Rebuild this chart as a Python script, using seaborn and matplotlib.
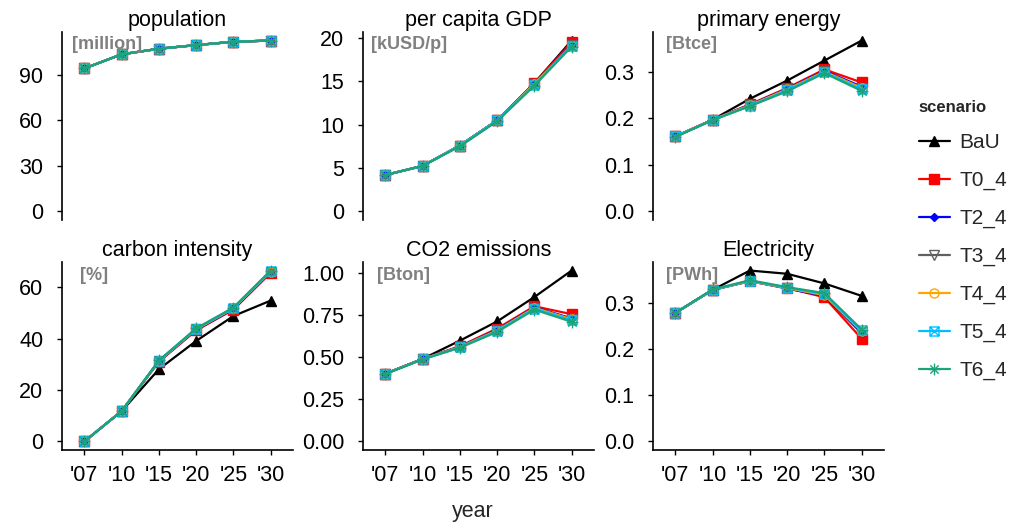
import numpy as np
import pandas as pd
import matplotlib
matplotlib.use("Agg")
import matplotlib.pyplot as plt
from matplotlib.path import Path
import seaborn as sns

years = ["'07", "'10", "'15", "'20", "'25", "'30"]
scenarios = ["BaU", "T0_4", "T2_4", "T3_4", "T4_4", "T5_4", "T6_4"]

population = {
    "BaU":  [94.3, 103.6, 107.3, 109.7, 111.9, 112.7],
    "T0_4": [94.3, 103.6, 107.3, 109.7, 111.9, 112.7],
    "T2_4": [94.3, 103.6, 107.3, 109.7, 111.9, 112.7],
    "T3_4": [94.3, 103.6, 107.3, 109.7, 111.9, 112.7],
    "T4_4": [94.3, 103.6, 107.3, 109.7, 111.9, 112.7],
    "T5_4": [94.3, 103.6, 107.3, 109.7, 111.9, 112.7],
    "T6_4": [94.3, 103.6, 107.3, 109.7, 111.9, 112.7],
}
gdp = {
    "BaU":  [4.2, 5.25, 7.6, 10.5, 14.8, 19.7],
    "T0_4": [4.2, 5.25, 7.6, 10.5, 14.8, 19.5],
    "T2_4": [4.2, 5.25, 7.6, 10.5, 14.7, 19.2],
    "T3_4": [4.2, 5.25, 7.6, 10.5, 14.7, 19.2],
    "T4_4": [4.2, 5.25, 7.6, 10.5, 14.7, 19.1],
    "T5_4": [4.2, 5.25, 7.6, 10.5, 14.6, 19.1],
    "T6_4": [4.2, 5.25, 7.5, 10.4, 14.5, 19.0],
}
energy = {
    "BaU":  [0.161, 0.197, 0.242, 0.281, 0.324, 0.367],
    "T0_4": [0.161, 0.197, 0.230, 0.265, 0.305, 0.277],
    "T2_4": [0.161, 0.197, 0.229, 0.263, 0.302, 0.268],
    "T3_4": [0.161, 0.197, 0.228, 0.262, 0.301, 0.266],
    "T4_4": [0.161, 0.197, 0.228, 0.262, 0.300, 0.265],
    "T5_4": [0.161, 0.196, 0.227, 0.260, 0.299, 0.262],
    "T6_4": [0.160, 0.196, 0.226, 0.258, 0.297, 0.259],
}
carbon = {
    "BaU":  [0.0, 11.8, 28.1, 39.1, 48.8, 54.8],
    "T0_4": [0.0, 11.8, 31.0, 43.2, 51.3, 65.6],
    "T2_4": [0.0, 11.8, 31.2, 43.5, 51.5, 65.8],
    "T3_4": [0.0, 11.8, 31.3, 43.6, 51.7, 66.0],
    "T4_4": [0.0, 11.8, 31.3, 43.7, 51.8, 66.1],
    "T5_4": [0.0, 11.8, 31.4, 43.8, 51.9, 66.3],
    "T6_4": [0.0, 11.8, 31.5, 44.0, 52.1, 66.5],
}
co2 = {
    "BaU":  [0.402, 0.490, 0.598, 0.712, 0.857, 1.014],
    "T0_4": [0.402, 0.490, 0.565, 0.670, 0.802, 0.755],
    "T2_4": [0.402, 0.489, 0.562, 0.662, 0.796, 0.730],
    "T3_4": [0.402, 0.489, 0.561, 0.660, 0.794, 0.727],
    "T4_4": [0.402, 0.489, 0.560, 0.658, 0.792, 0.724],
    "T5_4": [0.401, 0.488, 0.558, 0.655, 0.788, 0.718],
    "T6_4": [0.400, 0.487, 0.556, 0.650, 0.782, 0.710],
}
electricity = {
    "BaU":  [0.279, 0.329, 0.371, 0.364, 0.343, 0.316],
    "T0_4": [0.279, 0.329, 0.348, 0.333, 0.313, 0.223],
    "T2_4": [0.279, 0.329, 0.348, 0.332, 0.316, 0.235],
    "T3_4": [0.279, 0.329, 0.348, 0.333, 0.317, 0.238],
    "T4_4": [0.279, 0.329, 0.348, 0.333, 0.318, 0.239],
    "T5_4": [0.279, 0.329, 0.349, 0.334, 0.320, 0.241],
    "T6_4": [0.279, 0.330, 0.350, 0.335, 0.322, 0.243],
}

panel_titles = ["population", "per capita GDP", "primary energy",
                "carbon intensity", "CO2 emissions", "Electricity"]
panel_units = ["[million]", "[kUSD/p]", "[Btce]", "[%]", "[Bton]", "[PWh]"]
panel_data = [population, gdp, energy, carbon, co2, electricity]
panel_ticks = [[0, 30, 60, 90], [0, 5, 10, 15, 20], [0.0, 0.1, 0.2, 0.3],
               [0, 20, 40, 60], [0.00, 0.25, 0.50, 0.75, 1.00], [0.0, 0.1, 0.2, 0.3]]
tick_fmt = ["{:.0f}", "{:.0f}", "{:.1f}", "{:.0f}", "{:.2f}", "{:.1f}"]

# markers
square_x = Path([(-1, -1), (1, -1), (1, 1), (-1, 1), (-1, -1), (1, 1), (-1, 1), (1, -1)],
                [Path.MOVETO, Path.LINETO, Path.LINETO, Path.LINETO, Path.LINETO,
                 Path.LINETO, Path.MOVETO, Path.LINETO])
r = 0.7071
asterisk = Path([(-1, 0), (1, 0), (0, -1), (0, 1), (-r, -r), (r, r), (-r, r), (r, -r)],
                [Path.MOVETO, Path.LINETO] * 4)

styles = {
    "BaU":  dict(color="black", marker="^", ms=7.5, mfc="black", mec="black"),
    "T0_4": dict(color="#FF0000", marker="s", ms=6.5, mfc="#FF0000", mec="#FF0000"),
    "T2_4": dict(color="#0000FF", marker="D", ms=4, mfc="#0000FF", mec="#0000FF"),
    "T3_4": dict(color="#606060", marker="v", ms=7.5, mfc="none", mec="#606060"),
    "T4_4": dict(color="#FFA500", marker="o", ms=6.5, mfc="none", mec="#FFA500"),
    "T5_4": dict(color="#00BFFF", marker=square_x, ms=6.5, mfc="none", mec="#00BFFF"),
    "T6_4": dict(color="#1BA37A", marker=asterisk, ms=8.5, mfc="none", mec="#1BA37A"),
}

sns.set_theme(style="ticks")
plt.rcParams["font.family"] = ["Liberation Sans", "DejaVu Sans"]

FS = 15.5
W, H = 1019, 524
fig = plt.figure(figsize=(W / 100, H / 100), dpi=100)

lefts = [62, 363, 653]
tops = [32, 262]
pw, ph = 231, 188
unit_dx = [10, 8, 13, 18, 14, 13]

axes = []
for i in range(6):
    row, col = divmod(i, 3)
    ax = fig.add_axes([lefts[col] / W, 1 - (tops[row] + ph) / H, pw / W, ph / H])
    axes.append(ax)
    d = panel_data[i]
    rows = []
    for s in scenarios:
        for y, v in zip(years, d[s]):
            rows.append({"year": y, "value": v, "scenario": s})
    df = pd.DataFrame(rows)
    for s in scenarios:
        st = styles[s]
        sns.lineplot(data=df[df.scenario == s], x="year", y="value", ax=ax,
                     color=st["color"], marker=st["marker"], markersize=st["ms"],
                     markerfacecolor=st["mfc"], markeredgecolor=st["mec"],
                     markeredgewidth=1.0, linewidth=1.6, label=s, legend=False)
    M = max(max(v) for v in d.values())
    ax.set_ylim(-0.05 * M, 1.05 * M)
    ax.set_xlim(-0.6, 5.6)
    ax.set_yticks(panel_ticks[i])
    ax.set_yticklabels([tick_fmt[i].format(t) for t in panel_ticks[i]])
    ax.set_xlabel("")
    ax.set_ylabel("")
    ax.set_title(panel_titles[i], fontsize=FS, pad=4, color="black")
    for sp in ["top", "right"]:
        ax.spines[sp].set_visible(False)
    ax.spines["left"].set_linewidth(1.2)
    ax.spines["left"].set_color("black")
    ax.tick_params(axis="y", labelsize=FS, length=3.5, width=1.0, colors="black", pad=10)
    if row == 0:
        ax.spines["bottom"].set_visible(False)
        ax.tick_params(axis="x", bottom=False, labelbottom=False)
    else:
        ax.spines["bottom"].set_linewidth(1.2)
        ax.spines["bottom"].set_color("black")
        ax.set_xticks(range(len(years)))
        ax.set_xticklabels(years)
        ax.tick_params(axis="x", labelsize=FS, length=3.5, width=1.0, colors="black", pad=7)
    ax.text(unit_dx[i] / pw, 1 - 13 / ph, panel_units[i], transform=ax.transAxes,
            ha="left", va="center", fontsize=13, fontweight="bold", color="#808080")

fig.text(473 / W, 1 - 512 / H, "year", ha="center", va="center", fontsize=FS)

handles, labels = axes[0].get_legend_handles_labels()
leg = fig.legend(handles, labels, title="scenario", loc="upper left",
                 bbox_to_anchor=(900 / W, 1 - 81 / H), frameon=False,
                 fontsize=15, handlelength=1.5, handletextpad=0.45, labelspacing=0.9,
                 title_fontproperties={"weight": "bold", "size": 12})
leg._legend_box.align = "left"

fig.savefig("out.png", dpi=100)
